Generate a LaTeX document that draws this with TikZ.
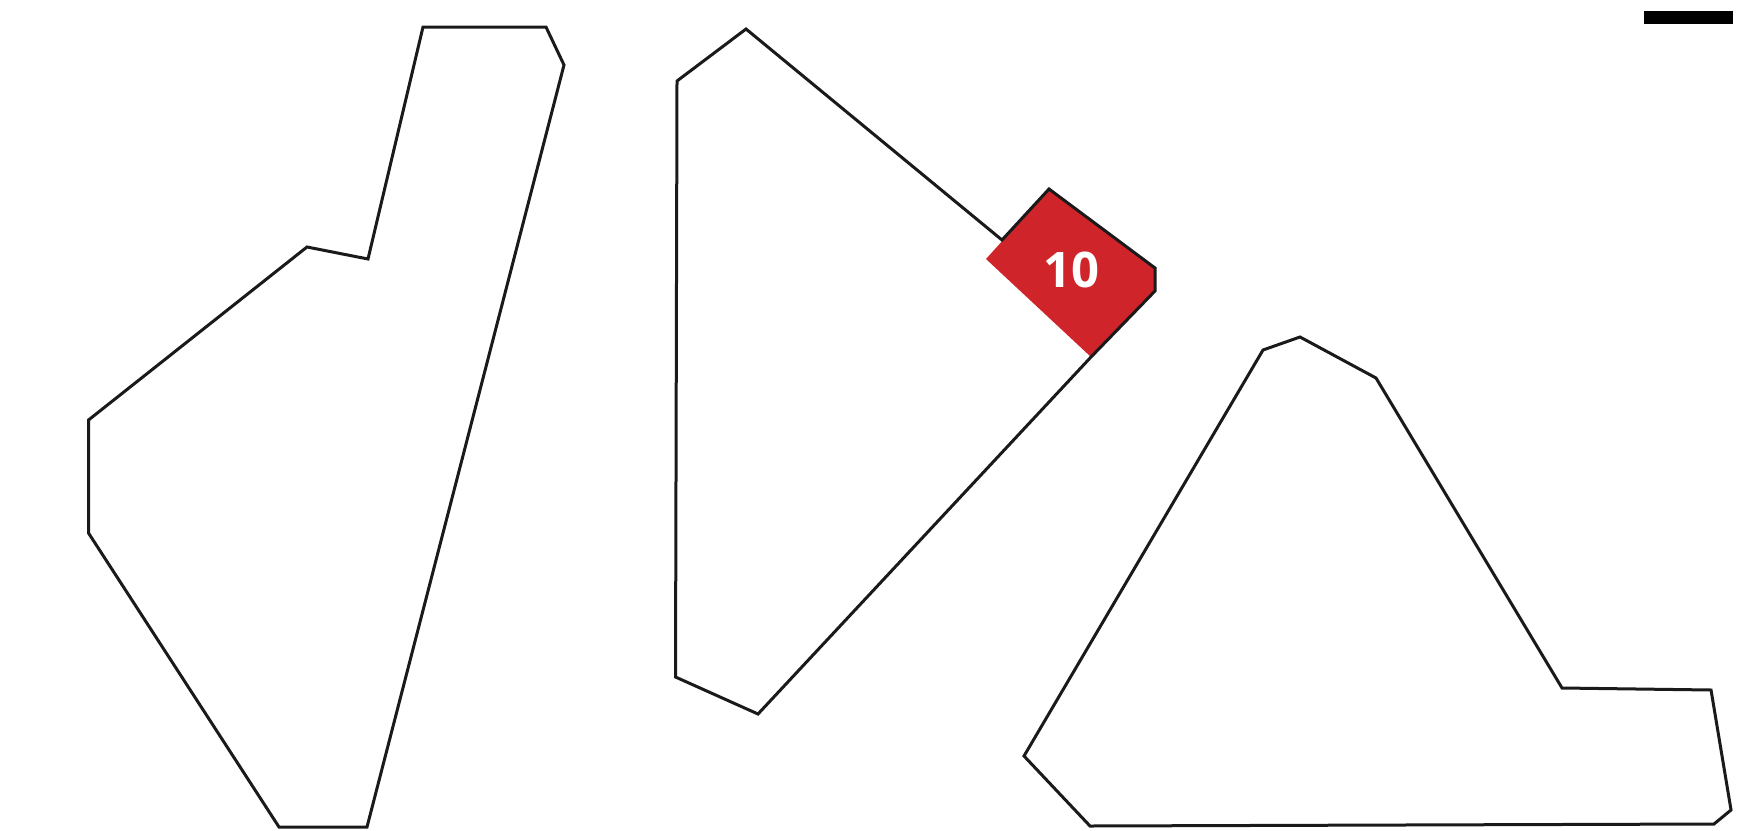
\documentclass[tikz,border=0pt]{standalone}
\usepackage{fontspec}
\setsansfont{Open Sans}
\usepackage{tikz}
\definecolor{zonered}{RGB}{208,36,43}
\definecolor{edgeblack}{RGB}{26,26,26}

\begin{document}
\begin{tikzpicture}[x=1pt, y=-1pt,
  outline/.style={draw=edgeblack, line width=3pt, line join=miter},
  zone/.style={fill=zonered},
  zonelabel/.style={text=white, font=\sffamily\bfseries\fontsize{49}{49}\selectfont, inner sep=0pt}]
  \useasboundingbox (0,0) rectangle (1753,830);
  % scale bar
  \fill[black] (1644,11) rectangle (1733,24);
  % left sector
  \draw[outline] (423,27) -- (546,27) -- (564,65) -- (367,827) -- (279,827)
    -- (88.5,533) -- (88.5,420) -- (307,247) -- (368,259) -- cycle;
  % middle sector, with zone 10
  \fill[zone] (1049,189) -- (1155,268) -- (1155,291) -- (1091,357) -- (986,259) -- cycle;
  \draw[outline] (677,81) -- (746,29) -- (1002,240) -- (1049,189) -- (1155,268)
    -- (1155,291) -- (1091,357) -- (758,714) -- (675.5,677) -- cycle;
  \node[zonelabel] (z10) at (1071.5,270) {10};
  % right sector
  \draw[outline] (1024,756) -- (1263,350) -- (1300,337) -- (1376,378) -- (1562,688)
    -- (1711,690) -- (1731,810) -- (1714,824) -- (1090,826) -- cycle;
\end{tikzpicture}
\end{document}
